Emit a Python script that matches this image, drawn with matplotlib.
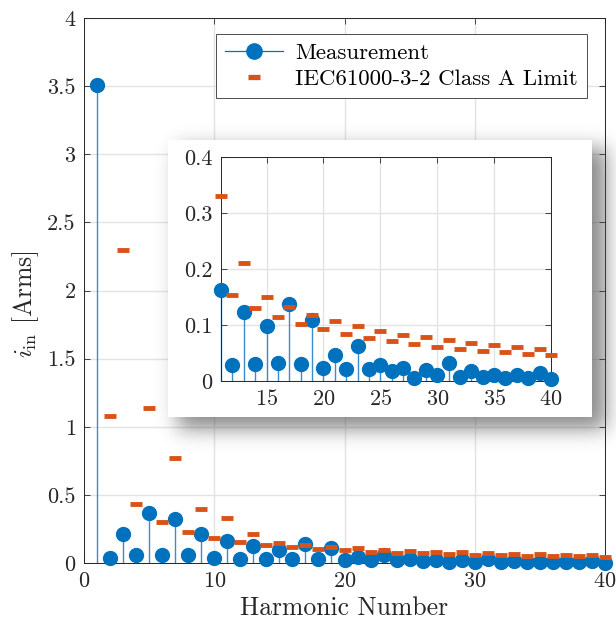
import numpy as np
import matplotlib
matplotlib.use("Agg")
import matplotlib.pyplot as plt
from matplotlib.lines import Line2D
from matplotlib.patches import Rectangle
from matplotlib.legend_handler import HandlerLine2D

plt.rcParams['font.family'] = ['cmr10', 'DejaVu Serif']
plt.rcParams['mathtext.fontset'] = 'cm'
plt.rcParams['axes.unicode_minus'] = False
plt.rcParams['axes.formatter.use_mathtext'] = True

harmonic = list(range(1, 41))
measured = [3.51, 0.037, 0.213, 0.059, 0.365, 0.059, 0.324, 0.056, 0.211, 0.037,
            0.163, 0.029, 0.123, 0.031, 0.099, 0.033, 0.137, 0.031, 0.109, 0.024,
            0.047, 0.022, 0.062, 0.022, 0.028, 0.018, 0.023, 0.006, 0.020, 0.010,
            0.032, 0.008, 0.017, 0.007, 0.011, 0.005, 0.010, 0.005, 0.014, 0.003]
limit_n = list(range(2, 41))
limit = [1.08, 2.30, 0.43, 1.14, 0.30, 0.77, 0.23, 0.40, 0.184, 0.33,
         0.153, 0.21, 0.131, 0.15, 0.115, 0.132, 0.102, 0.118, 0.092, 0.107,
         0.084, 0.098, 0.077, 0.09, 0.071, 0.083, 0.066, 0.078, 0.061, 0.073,
         0.058, 0.068, 0.054, 0.064, 0.051, 0.061, 0.048, 0.058, 0.046]

blue = '#0072BD'
stem_blue = '#3a8ccc'
orange = '#D95319'
W, H = 616, 630

fig = plt.figure(figsize=(W / 100, H / 100), dpi=100)


def style(ax):
    ax.tick_params(direction='in', top=True, right=True, length=4,
                   width=0.6, labelsize=16, colors='0.15', pad=6)
    for s in ax.spines.values():
        s.set_color('0.15')
        s.set_linewidth(0.7)
    ax.grid(True, color='0.89', linewidth=1.0)
    ax.set_axisbelow(True)


def draw(ax, n, vals, ln, lims):
    mk, st, bl = ax.stem(n, vals, basefmt=' ')
    plt.setp(st, color=stem_blue, linewidth=1.0, clip_on=False)
    plt.setp(mk, color=blue, markersize=10, clip_on=False, zorder=3)
    ax.plot(ln, lims, linestyle='none', marker='_', color=orange,
            markersize=8.5, markeredgewidth=3.5, clip_on=False, zorder=4)


# main axes
ax = fig.add_axes([84 / W, 1 - 563 / H, 521 / W, 545 / H], zorder=0)
draw(ax, harmonic, measured, limit_n, limit)
ax.set_xlim(0, 40)
ax.set_ylim(0, 4)
ax.set_xticks([0, 10, 20, 30, 40])
ax.set_yticks(np.arange(0, 4.01, 0.5))
ax.set_yticklabels(['0', '0.5', '1', '1.5', '2', '2.5', '3', '3.5', '4'])
style(ax)
ax.set_xlabel('Harmonic Number', fontsize=18.5, color='0.15', labelpad=4)
ax.set_ylabel(r'$i_{\mathrm{in}}$ [Arms]', fontsize=18.5, color='0.15')
ax.yaxis.set_label_coords(-0.083, 0.475)


class EndMarker(HandlerLine2D):
    def get_xdata(self, legend, xdescent, ydescent, width, height, fontsize):
        xd, _ = super().get_xdata(legend, xdescent, ydescent, width, height, fontsize)
        return xd, [xd[-1]]


h1 = Line2D([], [], color=blue, marker='o', markersize=11, linewidth=0.9)
h2 = Line2D([], [], color=orange, marker='_', markersize=9,
            markeredgewidth=3.8, linestyle='none')
leg = ax.legend([h1, h2], ['Measurement', 'IEC61000-3-2 Class A Limit'],
                loc='upper right', bbox_to_anchor=(0.9655, 0.971),
                borderaxespad=0, fontsize=16.5, fancybox=False, framealpha=1,
                edgecolor='0.3', handlelength=2.5, handletextpad=0.55,
                labelspacing=0.25, borderpad=0.4,
                handler_map={h1: EndMarker()})
leg.get_frame().set_linewidth(0.7)

# shadow + white panel behind inset
ov = fig.add_axes([0, 0, 1, 1], zorder=1)
x0, x1, y0, y1 = 168, 592, 140, 417
mask = np.zeros((H, W))
mask[y0 + 8:y1 + 12, x0 + 10:x1 + 14] = 1.0
k = np.exp(-0.5 * (np.arange(-30, 31) / 10.0) ** 2)
k /= k.sum()
blur = np.apply_along_axis(lambda r: np.convolve(r, k, mode='same'), 1, mask)
blur = np.apply_along_axis(lambda c: np.convolve(c, k, mode='same'), 0, blur)
rgba = np.zeros((H, W, 4))
rgba[..., :3] = 0.3
rgba[..., 3] = 0.65 * blur
ov.imshow(rgba, extent=(0, W, H, 0), interpolation='bilinear', zorder=1)
ov.add_patch(Rectangle((x0, y0), x1 - x0, y1 - y0, facecolor='white',
                       edgecolor='none', zorder=2))
ov.set_xlim(0, W)
ov.set_ylim(H, 0)
ov.axis('off')

# inset axes
ins = fig.add_axes([221 / W, 1 - 381 / H, 330 / W, 224 / H], zorder=2)
sel = [i for i, n in enumerate(harmonic) if n >= 11]
sel_l = [i for i, n in enumerate(limit_n) if n >= 11]
draw(ins, [harmonic[i] for i in sel], [measured[i] for i in sel],
     [limit_n[i] for i in sel_l], [limit[i] for i in sel_l])
ins.set_xlim(11, 40)
ins.set_ylim(0, 0.4)
ins.set_xticks([15, 20, 25, 30, 35, 40])
ins.set_yticks([0, 0.1, 0.2, 0.3, 0.4])
ins.set_yticklabels(['0', '0.1', '0.2', '0.3', '0.4'])
style(ins)

fig.savefig('out.png', dpi=100)
